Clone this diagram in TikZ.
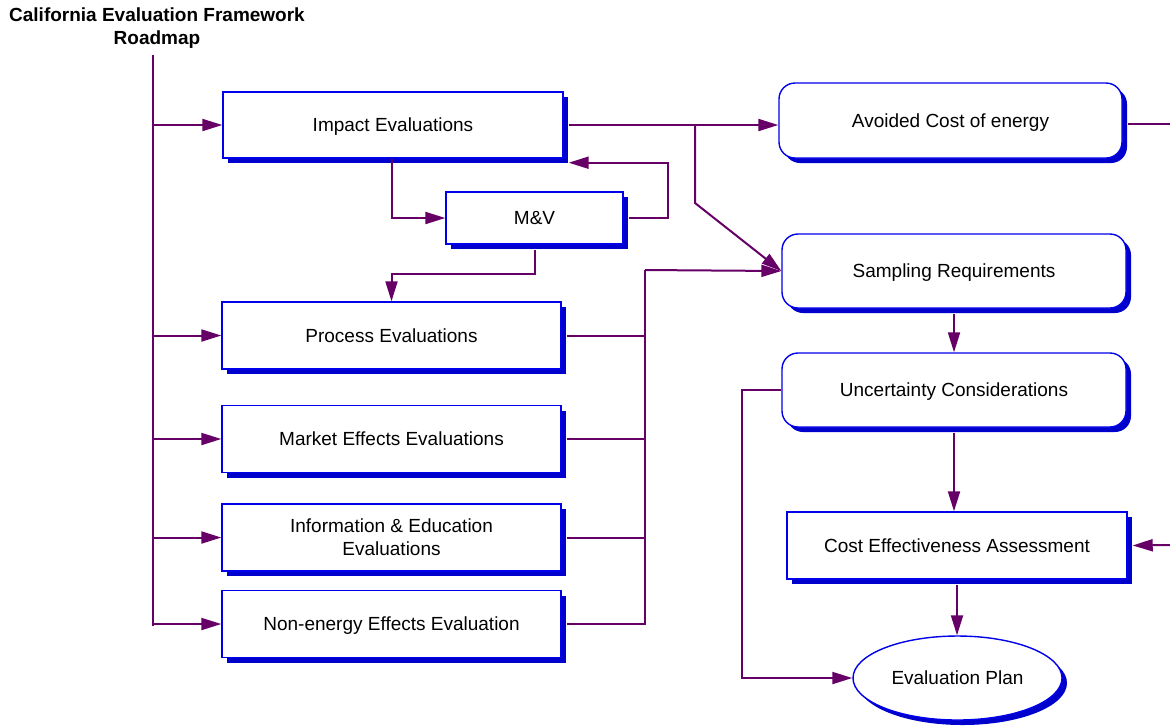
\documentclass[tikz,border=0pt]{standalone}
\usepackage{fontspec}
\setmainfont{Liberation Sans}
\usetikzlibrary{arrows.meta,shadows,shapes.geometric}

\definecolor{linkpurple}{RGB}{102,0,102}
\definecolor{boxblue}{RGB}{0,0,235}
\definecolor{shadowblue}{RGB}{0,0,204}

\tikzset{
  stagebox/.style={draw=boxblue,line width=0.7pt,fill=white,rectangle,align=center,
    drop shadow={shadow xshift=2.5pt,shadow yshift=-2.5pt,fill=shadowblue,opacity=1},
    font=\fontsize{9.5}{11.5}\selectfont,text depth=0pt},
  roundbox/.style={stagebox,rounded corners=8pt},
  planbox/.style={stagebox,ellipse,inner sep=0pt},
  link/.style={draw=linkpurple,line width=1pt},
  arrow/.style={link,-{Triangle[length=10pt,width=6pt]}}
}

\begin{document}
\begin{tikzpicture}[x=0.5pt,y=-0.5pt]
  \useasboundingbox (0,0) rectangle (1170,725);

  \node[font=\bfseries\fontsize{9.5}{11.5}\selectfont,align=center] (title) at (157,28)
    {California Evaluation Framework\\Roadmap};

  % evaluation types
  \node[stagebox,minimum width=170pt,minimum height=33pt] (impact) at (393,125) {Impact Evaluations};
  \node[stagebox,minimum width=88.5pt,minimum height=26pt] (mv) at (534.5,218) {M\&V};
  \foreach \name/\ypos/\txt in {process/335.5/Process Evaluations,
      market/439/Market Effects Evaluations,
      info/537.5/{Information \& Education\\Evaluations},
      nonenergy/624/Non-energy Effects Evaluation}{
    \node[stagebox,minimum width=169.5pt,minimum height=33.5pt] (\name) at (391.5,\ypos) {\txt};
  }

  % planning steps
  \node[roundbox,minimum width=171.5pt,minimum height=37.5pt] (avoided) at (950.5,120.5) {Avoided Cost of energy};
  \node[roundbox,minimum width=172pt,minimum height=37pt] (sampling) at (954,271) {Sampling Requirements};
  \node[roundbox,minimum width=172pt,minimum height=37pt] (uncertainty) at (954,390) {Uncertainty Considerations};
  \node[stagebox,minimum width=170pt,minimum height=33.5pt] (cost) at (957,545.5) {Cost Effectiveness Assessment};
  \node[planbox,minimum width=104.5pt,minimum height=42pt] (plan) at (957.5,678) {Evaluation Plan};

  \coordinate (trunktop) at (153,55);
  \coordinate (trunkend) at (153,626);
  \coordinate (fork) at (695,125);
  \coordinate (bus) at (645,270);
  \coordinate (outA) at (1170,124);
  \coordinate (inC) at (1170,545);

  % left trunk
  \draw[link] (trunktop) -- (trunkend);
  \foreach \name in {impact,process,market,info,nonenergy}{
    \draw[arrow] (trunktop |- \name.west) -- (\name.west);
  }

  % impact and M&V loop
  \draw[arrow] ([xshift=-0.5pt]impact.south) |- (mv.west);
  \draw[arrow] ([xshift=2.5pt]mv.east) -- ++(39,0) |- ([shift={(5,4)}]impact.south east);
  \draw[arrow] ([yshift=-2.5pt]mv.south) -- ++(0,24) -| (process.north);

  % to the right column
  \draw[arrow] ([xshift=2.5pt]impact.east) -- (impact.east -| avoided.west);
  \draw[arrow] (fork) -- ++(0,78) -- (sampling.west);
  \foreach \name in {process,market,info,nonenergy}{
    \draw[link] ([xshift=2.5pt]\name.east) -| (bus);
  }
  \draw[arrow] (bus) -- (sampling.west);

  % right column
  \draw[arrow] ([yshift=-2.5pt]sampling.south) -- (uncertainty.north);
  \draw[arrow] ([yshift=-2.5pt]uncertainty.south) -- (uncertainty.south |- cost.north);
  \draw[arrow] ([yshift=-2.5pt]cost.south) -- (cost.south |- plan.north);
  \draw[arrow] (uncertainty.west) -- ++(-39,0) |- (plan.west);
  \draw[link,shorten <=2.5pt] (outA -| avoided.east) -- (outA);
  \draw[arrow] (inC) -- ([xshift=2.5pt]cost.east);
\end{tikzpicture}
\end{document}
